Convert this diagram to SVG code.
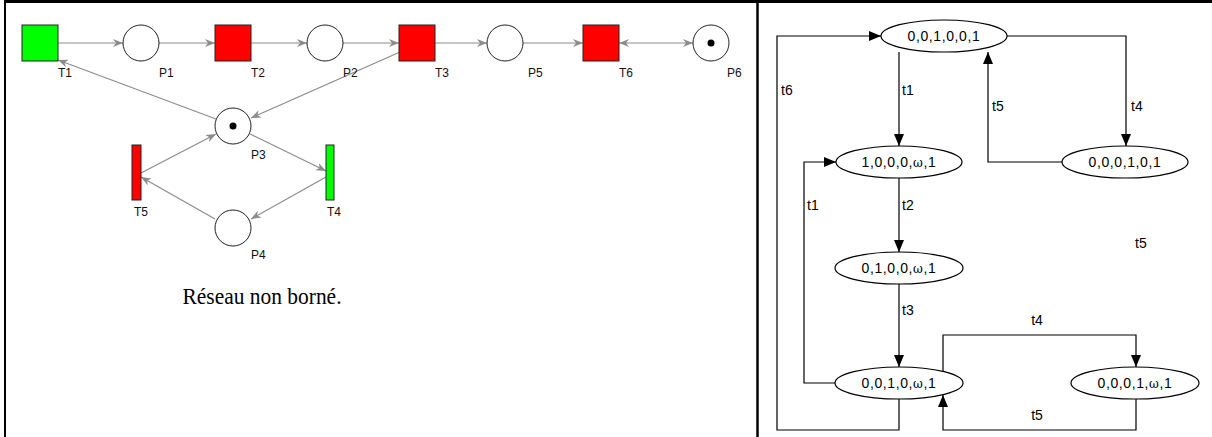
<svg xmlns="http://www.w3.org/2000/svg" width="1212" height="437" viewBox="0 0 1212 437">
  <style>
    .frame { stroke: #000; fill: none; }
    .arc { stroke: #8c8c8c; stroke-width: 1.2; fill: none; marker-end: url(#grey-head); }
    .place { fill: #fff; stroke: #222; stroke-width: 1; }
    .trans { stroke: #222; stroke-width: 1; }
    .red { fill: #ff0000; }
    .green { fill: #00ff00; }
    .tok { fill: #000; }
    .plab { font-family: "Liberation Sans", Arial, sans-serif; font-size: 12px; fill: #111; }
    .state { fill: #fff; stroke: #000; stroke-width: 1.2; }
    .stext { font-family: "Liberation Sans", Arial, sans-serif; font-size: 14px; letter-spacing: 0.6px; fill: #000; text-anchor: middle; }
    .omega { font-family: "DejaVu Serif", "Liberation Serif", serif; font-size: 12px; }
    .edge { stroke: #000; stroke-width: 1.2; fill: none; marker-end: url(#black-head); }
    .elab { font-family: "Liberation Sans", Arial, sans-serif; font-size: 14px; fill: #000; }
    .caption { font-family: "Liberation Serif", "Times New Roman", serif; font-size: 23px; fill: #000; text-anchor: middle; }
  </style>
  <defs>
    <marker id="grey-head" markerUnits="userSpaceOnUse" markerWidth="10" markerHeight="8" refX="10" refY="4" orient="auto">
      <path d="M0,0 L10,4 L0,8 L3,4 z" fill="#8c8c8c"/>
    </marker>
    <marker id="grey-tail" markerUnits="userSpaceOnUse" markerWidth="10" markerHeight="8" refX="0" refY="4" orient="auto">
      <path d="M10,0 L0,4 L10,8 L7,4 z" fill="#8c8c8c"/>
    </marker>
    <marker id="black-head" markerUnits="userSpaceOnUse" markerWidth="12" markerHeight="10" refX="12" refY="5" orient="auto">
      <path d="M0,0 L12,5 L0,10 z" fill="#000"/>
    </marker>
  </defs>

  <!-- outer frame and column divider -->
  <g id="frame">
    <line class="frame" x1="4" y1="1.5" x2="1212" y2="1.5" stroke-width="3"/>
    <line class="frame" x1="5" y1="0" x2="5" y2="437" stroke-width="2"/>
    <line class="frame" x1="757.5" y1="0" x2="757.5" y2="437" stroke-width="2.5"/>
  </g>

  <!-- Petri net: arcs -->
  <g id="petri-arcs">
    <line class="arc" x1="58" y1="43" x2="123" y2="43"/>
    <line class="arc" x1="159" y1="43" x2="215" y2="43"/>
    <line class="arc" x1="251" y1="43" x2="307" y2="43"/>
    <line class="arc" x1="343" y1="43" x2="399" y2="43"/>
    <line class="arc" x1="435" y1="43" x2="487" y2="43"/>
    <line class="arc" x1="523" y1="43" x2="583" y2="43"/>
    <line class="arc" x1="619" y1="43" x2="693" y2="43" marker-start="url(#grey-tail)"/>
    <line class="arc" x1="216" y1="119" x2="58" y2="60"/>
    <line class="arc" x1="400" y1="52" x2="251" y2="118"/>
    <line class="arc" x1="141" y1="173" x2="216" y2="134"/>
    <line class="arc" x1="250" y1="134" x2="326" y2="171"/>
    <line class="arc" x1="326" y1="177" x2="251" y2="219"/>
    <line class="arc" x1="215" y1="219" x2="141" y2="177"/>
  </g>

  <!-- Petri net: transitions -->
  <g id="T1"><rect class="trans green" x="22" y="25" width="36" height="36"/><text class="plab" x="58" y="77">T1</text></g>
  <g id="T2"><rect class="trans red" x="215" y="25" width="36" height="36"/><text class="plab" x="251" y="77">T2</text></g>
  <g id="T3"><rect class="trans red" x="399" y="25" width="36" height="36"/><text class="plab" x="435" y="77">T3</text></g>
  <g id="T6"><rect class="trans red" x="583" y="25" width="36" height="36"/><text class="plab" x="619" y="77">T6</text></g>
  <g id="T5"><rect class="trans red" x="132" y="145" width="9" height="55"/><text class="plab" x="134" y="216">T5</text></g>
  <g id="T4"><rect class="trans green" x="326" y="145" width="8" height="55"/><text class="plab" x="327" y="216">T4</text></g>

  <!-- Petri net: places -->
  <g id="P1"><circle class="place" cx="141" cy="43" r="18"/><text class="plab" x="159" y="77">P1</text></g>
  <g id="P2"><circle class="place" cx="325" cy="43" r="18"/><text class="plab" x="343" y="77">P2</text></g>
  <g id="P5"><circle class="place" cx="505" cy="43" r="18"/><text class="plab" x="528" y="77">P5</text></g>
  <g id="P6"><circle class="place" cx="711" cy="43" r="18"/><circle class="tok" cx="711" cy="43" r="3.5"/><text class="plab" x="727" y="77">P6</text></g>
  <g id="P3"><circle class="place" cx="233" cy="126" r="18"/><circle class="tok" cx="233" cy="126" r="3.5"/><text class="plab" x="251" y="159">P3</text></g>
  <g id="P4"><circle class="place" cx="233" cy="228" r="18"/><text class="plab" x="251" y="259">P4</text></g>

  <g id="caption"><text class="caption" x="262" y="304" textLength="159" lengthAdjust="spacingAndGlyphs">Réseau non borné.</text></g>

  <!-- Coverability graph: edges -->
  <g id="graph-edges">
    <path class="edge" d="M899,52 V146"/>
    <path class="edge" d="M1007,36 H1126 V146"/>
    <path class="edge" d="M1062,162 H988 V52"/>
    <path class="edge" d="M899,399 V430 H777 V36 H881"/>
    <path class="edge" d="M836,383 H804 V162 H836"/>
    <path class="edge" d="M899,178 V252"/>
    <path class="edge" d="M899,284 V367"/>
    <path class="edge" d="M943,371 V335 H1136 V367"/>
    <path class="edge" d="M1136,399 V430 H943 V395"/>
  </g>
  <g id="graph-labels">
    <text class="elab" x="902" y="95">t1</text>
    <text class="elab" x="1131" y="111">t4</text>
    <text class="elab" x="992" y="111">t5</text>
    <text class="elab" x="781" y="95">t6</text>
    <text class="elab" x="807" y="210">t1</text>
    <text class="elab" x="902" y="210">t2</text>
    <text class="elab" x="902" y="315">t3</text>
    <text class="elab" x="1037" y="325" text-anchor="middle">t4</text>
    <text class="elab" x="1037" y="420" text-anchor="middle">t5</text>
    <text class="elab" x="1135" y="248">t5</text>
  </g>

  <!-- Coverability graph: markings -->
  <g id="M0"><ellipse class="state" cx="944" cy="36" rx="63" ry="16"/><text class="stext" x="944" y="41">0,0,1,0,0,1</text></g>
  <g id="M1"><ellipse class="state" cx="899" cy="162" rx="63" ry="16"/><text class="stext" x="899" y="167">1,0,0,0,<tspan class="omega">ω</tspan>,1</text></g>
  <g id="M2"><ellipse class="state" cx="1125" cy="162" rx="63" ry="16"/><text class="stext" x="1125" y="167">0,0,0,1,0,1</text></g>
  <g id="M3"><ellipse class="state" cx="899" cy="268" rx="64" ry="16"/><text class="stext" x="899" y="273">0,1,0,0,<tspan class="omega">ω</tspan>,1</text></g>
  <g id="M4"><ellipse class="state" cx="899" cy="383" rx="64" ry="16"/><text class="stext" x="899" y="388">0,0,1,0,<tspan class="omega">ω</tspan>,1</text></g>
  <g id="M5"><ellipse class="state" cx="1135" cy="383" rx="64" ry="16"/><text class="stext" x="1135" y="388">0,0,0,1,<tspan class="omega">ω</tspan>,1</text></g>
</svg>
